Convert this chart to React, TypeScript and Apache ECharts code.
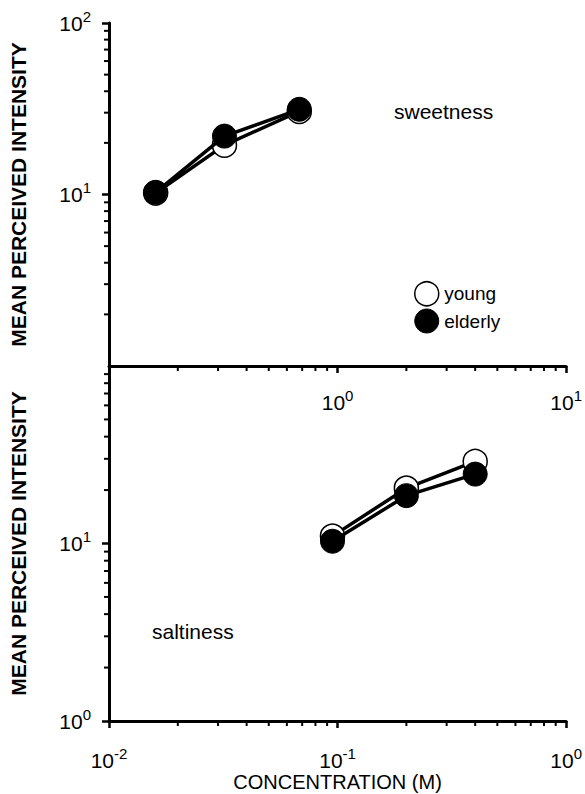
import React, { useEffect, useRef } from "react";
import * as echarts from "echarts";

// ---- data ----
const sweetConc = [0.16, 0.32, 0.68];
const sweetYoung = [10.2, 19.4, 30.5];
const sweetElderly = [10.3, 21.9, 31.4];

const saltConc = [0.095, 0.2, 0.4];
const saltYoung = [11.0, 20.5, 29.0];
const saltElderly = [10.3, 18.6, 24.6];

const topXRange = [0.1, 10];
const topYRange = [1, 100];
const botXRange = [0.01, 1];
const botYRange = [1, 100];

const minorMultipliers = [2, 3, 4, 5, 6, 7, 8, 9];

const FONT = "'Liberation Sans', Arial, Helvetica, sans-serif";

function minorTicks(range: number[]) {
  const out: number[] = [];
  for (let d = range[0]; d < range[1] - 1e-12; d *= 10) {
    for (const m of minorMultipliers) out.push(+(d * m).toPrecision(6));
  }
  return out;
}

const supFormatter = (v: number) => {
  const e = Math.round(Math.log10(v));
  return `{b|10}{s|${e}}`;
};

const rich = {
  b: { fontSize: 21, fontFamily: FONT, color: "#000" },
  s: { fontSize: 15, fontFamily: FONT, color: "#000", padding: [0, 0, 14, 0] },
};

function axisCommon(range: number[]) {
  return {
    type: "log",
    logBase: 10,
    min: range[0],
    max: range[1],
    axisLine: { show: true, onZero: false, lineStyle: { color: "#000", width: 3 } },
    axisTick: { show: true, length: 7, lineStyle: { color: "#000", width: 2.5 } },
    splitLine: { show: false },
    minorTick: { show: false },
  };
}

function minorSeries(xIdx: number, xRange: number[], yRange: number[]) {
  const data: number[][] = [];
  for (const v of minorTicks(xRange)) data.push([v, yRange[0], 0]);
  for (const v of minorTicks(yRange)) data.push([xRange[0], v, 1]);
  return {
    type: "custom",
    xAxisIndex: xIdx,
    yAxisIndex: xIdx,
    silent: true,
    clip: false,
    z: 1,
    data,
    renderItem: (params: any, api: any) => {
      const p = api.coord([api.value(0), api.value(1)]);
      const kind = api.value(2);
      const shape =
        kind === 0
          ? { x1: p[0], y1: p[1], x2: p[0], y2: p[1] + 5 }
          : { x1: p[0], y1: p[1], x2: p[0] - 5, y2: p[1] };
      return { type: "line", shape, style: { stroke: "#000", lineWidth: 2 } };
    },
  };
}

function lineSeries(name: string, idx: number, xs: number[], ys: number[], filled: boolean) {
  return {
    type: "line",
    name,
    xAxisIndex: idx,
    yAxisIndex: idx,
    data: xs.map((x, i) => [x, ys[i]]),
    symbol: "circle",
    symbolSize: 24,
    showSymbol: true,
    z: filled ? 4 : 3,
    lineStyle: { color: "#000", width: 3.5 },
    itemStyle: filled
      ? { color: "#000", borderColor: "#000", borderWidth: 1 }
      : { color: "#fff", borderColor: "#000", borderWidth: 1.5 },
  };
}

const yName = "MEAN PERCEIVED INTENSITY";
const nameStyle = { fontFamily: FONT, fontSize: 21, fontWeight: "bold", color: "#000" };

const option: any = {
  animation: false,
  backgroundColor: "#fff",
  grid: [
    { left: 106, right: 14, top: 23, height: 343 },
    { left: 106, right: 14, top: 366, height: 355 },
  ],
  xAxis: [
    {
      ...axisCommon(topXRange),
      gridIndex: 0,
      axisLabel: { formatter: supFormatter, rich, margin: 22, showMinLabel: false },
    },
    {
      ...axisCommon(botXRange),
      gridIndex: 1,
      name: "CONCENTRATION (M)",
      nameLocation: "middle",
      nameGap: 48,
      nameTextStyle: { fontFamily: FONT, fontSize: 20, color: "#000" },
      axisLabel: { formatter: supFormatter, rich, margin: 25 },
    },
  ],
  yAxis: [
    {
      ...axisCommon(topYRange),
      gridIndex: 0,
      name: yName,
      nameLocation: "middle",
      nameGap: 80,
      nameTextStyle: nameStyle,
      axisLabel: { formatter: supFormatter, rich, margin: 18, showMinLabel: false },
    },
    {
      ...axisCommon(botYRange),
      gridIndex: 1,
      name: yName,
      nameLocation: "middle",
      nameGap: 80,
      nameTextStyle: nameStyle,
      axisLabel: { formatter: supFormatter, rich, margin: 18, showMaxLabel: false },
    },
  ],
  legend: {
    orient: "vertical",
    left: 409,
    top: 276,
    icon: "circle",
    itemWidth: 25,
    itemHeight: 24,
    itemGap: 2,
    textStyle: { fontFamily: FONT, fontSize: 19, color: "#000" },
    data: [
      { name: "young", itemStyle: { color: "#fff", borderColor: "#000", borderWidth: 1.5 } },
      { name: "elderly", itemStyle: { color: "#000", borderColor: "#000", borderWidth: 1 } },
    ],
    selectedMode: false,
  },
  graphic: [
    {
      type: "text",
      left: 394,
      top: 101,
      style: { text: "sweetness", font: `21px ${FONT}`, fill: "#000" },
    },
    {
      type: "text",
      left: 152,
      top: 621,
      style: { text: "saltiness", font: `21px ${FONT}`, fill: "#000" },
    },
  ],
  series: [
    minorSeries(0, topXRange, topYRange),
    minorSeries(1, botXRange, botYRange),
    lineSeries("young", 0, sweetConc, sweetYoung, false),
    lineSeries("elderly", 0, sweetConc, sweetElderly, true),
    lineSeries("young", 1, saltConc, saltYoung, false),
    lineSeries("elderly", 1, saltConc, saltElderly, true),
  ],
};

export default function App() {
  const ref = useRef<HTMLDivElement>(null);
  useEffect(() => {
    if (!ref.current) return;
    const chart = echarts.init(ref.current, null, { renderer: "svg" });
    chart.setOption(option);
    return () => chart.dispose();
  }, []);
  return (
    <div
      ref={ref}
      style={{ position: "fixed", left: 0, top: 0, width: 585, height: 794, background: "#fff" }}
    />
  );
}
